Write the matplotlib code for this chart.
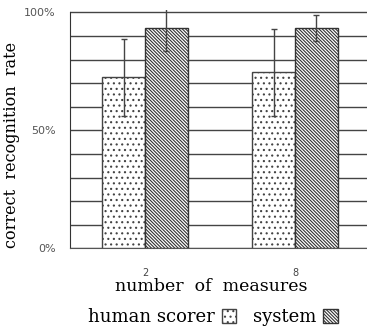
import matplotlib.pyplot as plt
import numpy as np

plt.rcParams["font.family"] = "DejaVu Sans"
plt.rcParams["hatch.linewidth"] = 0.8

measures = ["2", "8"]
human = [72.6, 74.7]
human_err = [16.3, 18.4]
system = [93.6, 93.6]
system_err = [9.9, 5.5]

fig = plt.figure(figsize=(3.67, 3.33), dpi=100)
ax = fig.add_axes([70 / 367, 0.2544, 300 / 367, 0.7153])

x = np.arange(len(measures))
w = 0.285
err_kw = dict(ecolor="#444444", elinewidth=1.0, capsize=2, capthick=1.0)
b1 = ax.bar(x - w / 2, human, w, yerr=human_err, color="white",
            edgecolor="#444444", linewidth=1.0, hatch="...",
            error_kw=err_kw, label="human scorer", zorder=3)
b2 = ax.bar(x + w / 2, system, w, yerr=system_err, color="white",
            edgecolor="#333333", linewidth=1.0, hatch="\\" * 10,
            error_kw=err_kw, label="system", zorder=3)

ax.set_xlim(-0.5, 1.5)
ax.set_ylim(0, 101)
ax.set_yticks(np.arange(0, 101, 10))
ax.set_yticklabels(["0%", "", "", "", "", "50%", "", "", "", "", "100%"],
                   fontsize=8, color="#555555")
ax.set_xticks(x)
ax.set_xticklabels(measures, fontsize=7, color="#444444")
ax.tick_params(length=0)
ax.tick_params(axis="y", pad=10.5)
ax.tick_params(axis="x", pad=14)
ax.yaxis.grid(True, color="#444444", linewidth=1.0, zorder=0)
ax.set_axisbelow(True)

for s in ["top", "right"]:
    ax.spines[s].set_visible(False)
ax.spines["left"].set_bounds(0, 100)
ax.spines["left"].set_color("#333333")
ax.spines["bottom"].set_color("#555555")

ax.set_xlabel("number  of  measures", family="DejaVu Serif", fontsize=12.5,
              labelpad=0)
ax.xaxis.set_label_coords(0.47, -0.126)
ax.set_ylabel("correct  recognition  rate", family="DejaVu Serif",
              fontsize=11.5)
ax.yaxis.set_label_coords(-0.165, 0.434)

fig.legend(handles=[b1, b2], loc="center", bbox_to_anchor=(0.58, 0.048),
           ncol=2, frameon=False, markerfirst=False, handlelength=0.8,
           handleheight=0.8, handletextpad=0.4, columnspacing=0.9,
           prop={"family": "DejaVu Serif", "size": 13})

plt.savefig("out.png", dpi=100)
